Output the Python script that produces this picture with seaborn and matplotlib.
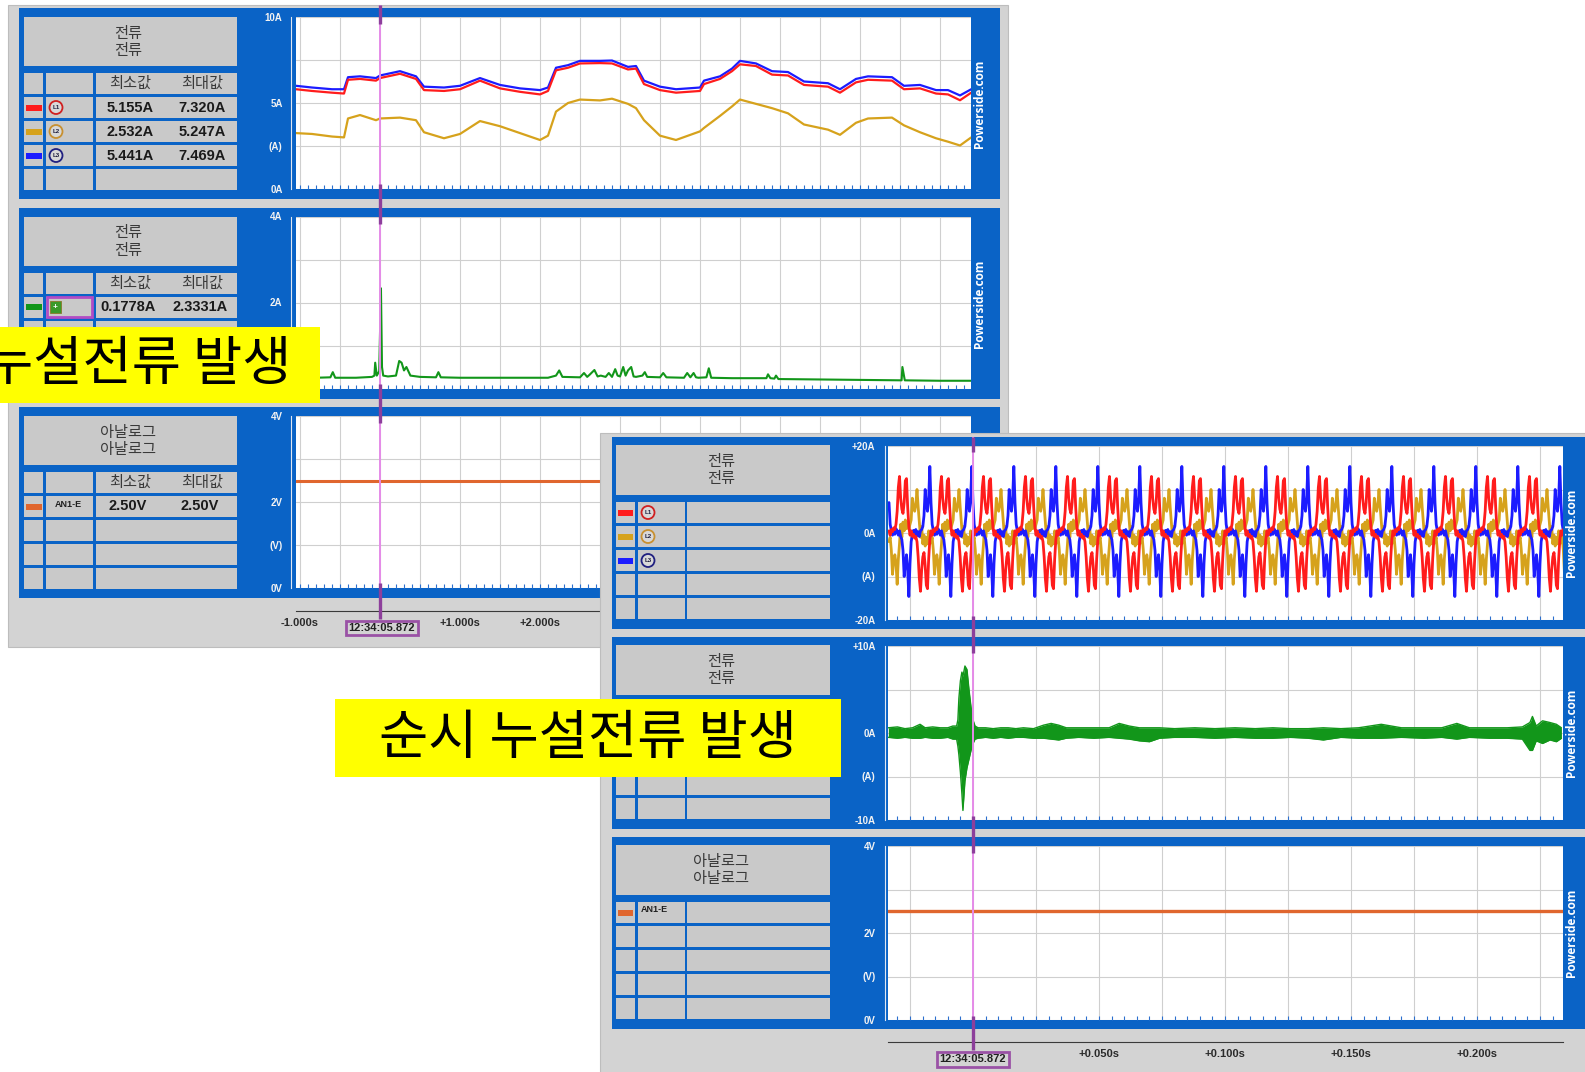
import numpy as np
import matplotlib
matplotlib.use("Agg")
import matplotlib.pyplot as plt
import seaborn as sns
from matplotlib.patches import Rectangle, Circle
from matplotlib.ticker import MultipleLocator, FixedLocator

sns.set_style("white")
plt.rcParams['font.family'] = ['Liberation Sans', 'Noto Sans CJK KR', 'DejaVu Sans']
KR = ['Noto Sans CJK KR', 'DejaVu Sans']

# ---------------- DATA ----------------
# Left recorder window: RMS trend, time in s relative to cursor 12:34:05.872
rms_time_s = [-1.05, -0.85, -0.6, -0.45, -0.4, -0.25, -0.05, 0.0, 0.25, 0.45,
              0.55, 0.8, 1.0, 1.25, 1.5, 1.75, 2.0, 2.1, 2.2, 2.35,
              2.5, 2.75, 2.9, 3.1, 3.2, 3.3, 3.5, 3.7, 4.0, 4.05,
              4.25, 4.4, 4.5, 4.7, 4.9, 5.1, 5.3, 5.6, 5.75, 5.95,
              6.1, 6.4, 6.55, 6.75, 6.95, 7.1, 7.25, 7.39]
rms_L1_A = [5.8, 5.7, 5.6, 5.55, 6.35, 6.4, 6.3, 6.45, 6.7, 6.4,
            5.75, 5.7, 5.8, 6.3, 5.85, 5.65, 5.5, 5.7, 6.9, 7.05,
            7.3, 7.32, 7.3, 6.95, 7.0, 6.1, 5.75, 5.6, 5.7, 6.1,
            6.4, 6.85, 7.25, 7.15, 6.65, 6.6, 6.05, 5.95, 5.6, 6.2,
            6.35, 6.3, 5.8, 5.85, 5.55, 5.5, 5.16, 5.6]
rms_L2_A = [3.25, 3.2, 3.05, 3.0, 4.1, 4.3, 4.0, 4.1, 4.15, 4.0,
            3.3, 2.95, 3.2, 3.95, 3.65, 3.25, 2.85, 3.1, 4.5, 5.0,
            5.2, 5.15, 5.25, 4.95, 4.7, 4.0, 3.1, 2.85, 3.35, 3.55,
            4.25, 4.8, 5.2, 4.95, 4.7, 4.4, 3.75, 3.45, 3.15, 3.85,
            4.1, 4.15, 3.7, 3.3, 2.95, 2.75, 2.53, 3.0]
rms_L3_A = [6.0, 5.9, 5.8, 5.8, 6.5, 6.55, 6.45, 6.6, 6.85, 6.55,
            5.95, 5.9, 6.0, 6.45, 6.05, 5.85, 5.75, 5.9, 7.05, 7.2,
            7.45, 7.45, 7.47, 7.1, 7.15, 6.3, 5.95, 5.8, 5.9, 6.3,
            6.55, 7.0, 7.45, 7.3, 6.85, 6.8, 6.25, 6.15, 5.8, 6.4,
            6.55, 6.5, 6.0, 6.05, 5.75, 5.75, 5.44, 5.8]

leak_time_s = [-1.05, -0.8, -0.62, -0.59, -0.56, -0.3, -0.1, -0.07, -0.06, -0.04,
               -0.01, 0.012, 0.025, 0.04, 0.1, 0.2, 0.24, 0.27, 0.3, 0.33,
               0.38, 0.5, 0.7, 0.73, 0.76, 1.0, 1.4, 1.8, 2.1, 2.2,
               2.24, 2.28, 2.5, 2.55, 2.59, 2.62, 2.68, 2.72, 2.76, 2.82,
               2.86, 2.9, 2.94, 2.97, 3.0, 3.04, 3.07, 3.1, 3.14, 3.17,
               3.2, 3.28, 3.31, 3.34, 3.5, 3.54, 3.58, 3.8, 3.84, 3.88,
               3.92, 3.95, 3.98, 4.08, 4.11, 4.14, 4.4, 4.83, 4.85, 4.88,
               4.93, 4.95, 4.98, 5.5, 6.0, 6.52, 6.53, 6.56, 7.0, 7.39]
leak_rms_A = [0.25, 0.25, 0.26, 0.38, 0.25, 0.25, 0.27, 0.3, 0.6, 0.3,
              0.4, 2.33, 0.5, 0.3, 0.28, 0.3, 0.64, 0.6, 0.42, 0.5,
              0.3, 0.27, 0.26, 0.38, 0.26, 0.25, 0.25, 0.25, 0.25, 0.3,
              0.42, 0.27, 0.26, 0.36, 0.27, 0.32, 0.43, 0.28, 0.3, 0.27,
              0.36, 0.27, 0.45, 0.3, 0.28, 0.5, 0.3, 0.42, 0.5, 0.28,
              0.27, 0.3, 0.38, 0.27, 0.26, 0.36, 0.26, 0.25, 0.36, 0.26,
              0.36, 0.26, 0.25, 0.26, 0.47, 0.25, 0.24, 0.24, 0.33, 0.24,
              0.23, 0.3, 0.22, 0.21, 0.2, 0.19, 0.5, 0.19, 0.18, 0.18]
analog_V = 2.50

phase_names = ['L1', 'L2', 'L3']
rms_min_txt = ['5.155A', '2.532A', '5.441A']
rms_max_txt = ['7.320A', '5.247A', '7.469A']
leak_min_txt, leak_max_txt = '0.1778A', '2.3331A'
an_min_txt, an_max_txt = '2.50V', '2.50V'
cursor_stamp = '12:34:05.872'

# Right recorder window: one observed 60 Hz cycle per phase (36 samples), repeated
line_freq_hz = 60.0
n_cycles = 17
wave_start_s = -2 / 60.0
cycle_L1_A = [0.5, -0.5, 0.8, 0.3, 1.2, 0.8, 2.0, 5.0, 10.5, 13.0, 8.0, 5.5,
              4.5, 7.0, 12.0, 12.5, 6.0, 1.5, -0.5, 0.5, -0.8, -0.3, -1.2, -0.8,
              -2.0, -5.5, -10.5, -13.4, -8.5, -5.5, -4.5, -7.5, -12.0, -12.8, -6.0, -1.5]
cycle_L2_A = [-2.0, -1.0, -4.0, -9.5, -6.5, -5.0, -7.0, -11.8, -6.0, -2.5, 2.0, -1.0,
              2.5, 0.5, 3.0, 1.0, 2.5, 1.0, 2.0, 3.0, 8.0, 6.0, 5.0, 6.5,
              10.0, 6.0, 2.5, -1.0, 1.5, -2.5, -0.5, -3.0, -1.0, -2.5, 0.5, -2.5]
cycle_L3_A = [7.0, 2.0, 0.5, -0.5, 0.8, -0.3, 1.0, 0.3, -0.5, 0.5, -0.8, -1.5,
              -4.0, -10.0, -7.0, -5.0, -8.5, -14.6, -7.0, -2.0, -0.5, 0.6, -0.4, 0.8,
              -0.6, 0.3, -0.8, 0.5, 0.8, 1.5, 4.0, 10.0, 6.5, 5.0, 8.0, 15.3]

leak_inst_ms = [-33.6, -30, -27, -24, -21, -19, -16, -13, -10, -8,
                -6.5, -6.0, -5.6, -5.0, -4.4, -4.0, -3.2, -2.4, -1.6, -0.8,
                0.0, 0.8, 2, 5, 8, 11, 14, 17, 20, 24,
                28, 31, 34, 37, 42, 48, 54, 58, 62, 66,
                70, 74, 80, 88, 96, 104, 112, 119, 126, 133,
                139, 146, 153, 162, 170, 179, 186, 192, 197, 205,
                212, 218, 221, 222, 223.5, 226, 229, 231.5, 233.5]
leak_inst_upper_A = [0.6, 0.7, 0.5, 0.6, 1.0, 0.6, 0.7, 0.6, 0.6, 0.8,
                     0.8, 1.5, 4.0, 6.0, 7.0, 6.5, 7.7, 7.3, 5.0, 3.0,
                     1.5, 0.8, 0.6, 0.6, 0.5, 0.6, 0.6, 0.5, 0.6, 0.5,
                     0.9, 1.1, 0.9, 0.6, 0.6, 0.6, 0.6, 1.1, 0.8, 0.6,
                     0.6, 0.6, 0.5, 0.6, 0.5, 0.6, 0.5, 0.6, 0.5, 0.5,
                     0.6, 0.5, 0.6, 1.0, 0.6, 0.6, 0.6, 1.1, 0.6, 0.6,
                     0.6, 0.7, 1.2, 1.9, 0.8, 1.4, 1.2, 1.0, 0.6]
leak_inst_lower_A = [-0.5, -0.6, -0.5, -0.6, -0.6, -0.5, -0.6, -0.6, -0.5, -0.7,
                     -0.7, -1.5, -2.5, -4.5, -7.0, -8.9, -5.5, -4.0, -3.0, -2.0,
                     -1.2, -0.7, -0.6, -0.5, -0.6, -0.5, -0.6, -0.5, -0.5, -0.6,
                     -0.6, -0.7, -0.8, -0.6, -0.5, -0.6, -0.5, -0.6, -0.7, -0.9,
                     -1.0, -0.6, -0.5, -0.5, -0.6, -0.5, -0.6, -0.6, -0.5, -0.6,
                     -0.8, -0.5, -0.6, -0.6, -0.5, -0.6, -0.5, -0.7, -0.5, -0.6,
                     -0.6, -0.7, -2.0, -2.0, -0.9, -1.2, -0.8, -1.0, -0.6]

# ---------------- STYLE ----------------
W, H = 1585, 1072
BLUE = '#0a63c6'
WIN = '#d3d3d3'
CELL = '#c9c9c9'
TXT = '#3a3a3a'
C_L1, C_L2, C_L3 = '#ff1c1c', '#d6a21c', '#1c1cff'
C_LEAK = '#12961a'
C_AN = '#e0662e'
CUR_LIGHT, CUR_DARK = '#e58be8', '#8d3f9b'

fig = plt.figure(figsize=(W / 100, H / 100), dpi=100, facecolor='white')


def canvas(z):
    ax = fig.add_axes([0, 0, 1, 1], zorder=z)
    ax.set_xlim(0, W)
    ax.set_ylim(H, 0)
    ax.axis('off')
    return ax


def px_axes(x0, y0, x1, y1, z):
    return fig.add_axes([x0 / W, 1 - y1 / H, (x1 - x0) / W, (y1 - y0) / H], zorder=z)


def rect(ax, x0, y0, x1, y1, **kw):
    ax.add_patch(Rectangle((x0, y0), x1 - x0, y1 - y0, **kw))


def style_plot(ax, xlim, ylim, yt, yl, yminor, xmajor, xminor, off_px, tlen_px):
    ax.set_facecolor('white')
    ax.set_xlim(*xlim)
    ax.set_ylim(*ylim)
    for s in ('top', 'right', 'bottom'):
        ax.spines[s].set_visible(False)
    ax.spines['left'].set_position(('outward', off_px * 0.72))
    ax.spines['left'].set_color('#dfe6f2')
    ax.spines['left'].set_linewidth(0.8)
    ax.yaxis.set_major_locator(FixedLocator(yt))
    ax.set_yticklabels(yl)
    ax.yaxis.set_minor_locator(MultipleLocator(yminor))
    ax.tick_params(axis='y', which='major', direction='out', length=tlen_px * 0.72,
                   width=0.8, color='#dfe6f2', labelcolor='#f2f2f2', labelsize=7, pad=1)
    ax.tick_params(axis='y', which='minor', direction='out', length=2, width=0.6,
                   color='#dfe6f2')
    ax.xaxis.set_major_locator(MultipleLocator(xmajor))
    ax.xaxis.set_minor_locator(MultipleLocator(xminor))
    ax.tick_params(axis='x', which='both', direction='in', length=3, width=0.8,
                   color='#2b6fcf', labelbottom=False, bottom=True)
    ax.grid(True, which='major', color='#cfcfcf', lw=0.8)
    ax.set_axisbelow(True)
    for lab in ax.get_yticklabels():
        lab.set_fontweight('bold')
    ax.set_xlabel('')
    ax.set_ylabel('')


def ruler(x0, x1, y, xlim, ticks, labels, minor, z):
    ax = px_axes(x0, y - 1, x1, y, z)
    ax.set_xlim(*xlim)
    ax.set_ylim(0, 1)
    ax.patch.set_alpha(0)
    for s in ('top', 'left', 'right'):
        ax.spines[s].set_visible(False)
    ax.spines['bottom'].set_color('#3a3a3a')
    ax.set_yticks([])
    ax.xaxis.set_major_locator(FixedLocator(ticks))
    ax.set_xticklabels(labels)
    ax.xaxis.set_minor_locator(MultipleLocator(minor))
    ax.tick_params(axis='x', which='major', direction='out', length=4.5, width=1,
                   color='#3a3a3a', labelsize=8, pad=0.5, labelcolor='#2a2a2a')
    ax.tick_params(axis='x', which='minor', direction='out', length=2.8, width=0.8,
                   color='#3a3a3a')
    for lab in ax.get_xticklabels():
        lab.set_fontweight('bold')
    return ax


def phase_icon(ax, x, y, name, color):
    ax.add_patch(Circle((x, y), 6.5, fc='#d8d8d8', ec=color, lw=1.3))
    ax.text(x, y, name, ha='center', va='center', fontsize=4.5, fontweight='bold',
            color='#202040')


def powerside(ax, x, y):
    ax.text(x, y, 'Powerside.com', rotation=90, ha='center', va='center',
            color='white', fontsize=8.5, fontweight='bold', family=['Open Sans', 'DejaVu Sans'])


# ================= LEFT WINDOW =================
cL = canvas(0)
rect(cL, 8, 5, 1008, 647, fc=WIN, ec='#bdbdbd', lw=0.8)
L_TOPS = [8, 207.5, 407]
L_TITLES = ['전류\n전류', '전류\n전류', '아날로그\n아날로그']
for top, title in zip(L_TOPS, L_TITLES):
    rect(cL, 19, top, 1000, top + 191, fc=BLUE, ec='none')
    rect(cL, 24, top + 9, 237, top + 58, fc=CELL, ec='none')
    cL.text(128, top + 34, title, ha='center', va='center', fontsize=11,
            family=KR, color=TXT, linespacing=1.0)
    for r in range(5):
        y0 = top + 65 + 24 * r
        for cx0, cx1 in ((24, 43), (46, 93), (96, 237)):
            rect(cL, cx0, y0, cx1, y0 + 21, fc=CELL, ec='none')
    cL.text(130, top + 75.5, '최소값', ha='center', va='center', fontsize=11, family=KR, color=TXT)
    cL.text(202, top + 75.5, '최대값', ha='center', va='center', fontsize=11, family=KR, color=TXT)
    powerside(cL, 979, top + 96)

# rows of panel 1
for i, (nm, col) in enumerate(zip(phase_names, [C_L1, C_L2, C_L3])):
    yc = L_TOPS[0] + 89 + 24 * i + 10.5
    rect(cL, 26, yc - 3, 42, yc + 3, fc=col, ec='none')
    phase_icon(cL, 56, yc, nm, {'L1': '#d02020', 'L2': '#c89030', 'L3': '#202080'}[nm])
    cL.text(130, yc, rms_min_txt[i], ha='center', va='center', fontsize=10.5, fontweight='bold', color='#1a1a1a')
    cL.text(202, yc, rms_max_txt[i], ha='center', va='center', fontsize=10.5, fontweight='bold', color='#1a1a1a')
# panel 2 row
yc = L_TOPS[1] + 89 + 10.5
rect(cL, 26, yc - 3, 42, yc + 3, fc=C_LEAK, ec='none')
rect(cL, 47, yc - 10, 92, yc + 10, fc=CELL, ec='#b24cc4', lw=2)
rect(cL, 50, yc - 6, 61, yc + 6, fc='#3a9a2a', ec='#8a7a2a', lw=0.6)
cL.text(55.5, yc, '+', ha='center', va='center', fontsize=6, fontweight='bold', color='white')
cL.text(128, yc, leak_min_txt, ha='center', va='center', fontsize=10.5, fontweight='bold', color='#1a1a1a')
cL.text(200, yc, leak_max_txt, ha='center', va='center', fontsize=10.5, fontweight='bold', color='#1a1a1a')
# panel 3 row
yc = L_TOPS[2] + 89 + 10.5
rect(cL, 26, yc - 3, 42, yc + 3, fc=C_AN, ec='none')
cL.text(68, yc - 2, 'AN1-E', ha='center', va='center', fontsize=6.5, fontweight='bold', color='#202020')
cL.text(128, yc, an_min_txt, ha='center', va='center', fontsize=10.5, fontweight='bold', color='#1a1a1a')
cL.text(200, yc, an_max_txt, ha='center', va='center', fontsize=10.5, fontweight='bold', color='#1a1a1a')

XL_LIM = ((296 - 380) / 80.0, (971 - 380) / 80.0)

a1 = px_axes(296, L_TOPS[0] + 9, 971, L_TOPS[0] + 181, 1)
sns.lineplot(x=rms_time_s, y=rms_L2_A, ax=a1, color=C_L2, lw=1.6, estimator=None, sort=False)
sns.lineplot(x=rms_time_s, y=rms_L3_A, ax=a1, color=C_L3, lw=1.6, estimator=None, sort=False)
sns.lineplot(x=rms_time_s, y=rms_L1_A, ax=a1, color=C_L1, lw=1.6, estimator=None, sort=False)
style_plot(a1, XL_LIM, (0, 10), [0, 2.5, 5, 7.5, 10], ['0A', '(A)', '5A', '', '10A'],
           0.5, 0.5, 0.1, 5, 7)

a2 = px_axes(296, L_TOPS[1] + 9, 971, L_TOPS[1] + 181, 1)
sns.lineplot(x=leak_time_s, y=leak_rms_A, ax=a2, color=C_LEAK, lw=1.5, estimator=None, sort=False)
# the lower two labels of this axis lie under the yellow callout
style_plot(a2, XL_LIM, (0, 4), [0, 1, 2, 3, 4], ['', '', '2A', '', '4A'],
           0.2, 0.5, 0.1, 5, 7)

a3 = px_axes(296, L_TOPS[2] + 9, 971, L_TOPS[2] + 181, 1)
sns.lineplot(x=[XL_LIM[0], XL_LIM[1]], y=[analog_V, analog_V], ax=a3, color=C_AN, lw=2.2)
style_plot(a3, XL_LIM, (0, 4), [0, 1, 2, 3, 4], ['0V', '(V)', '2V', '', '4V'],
           0.2, 0.5, 0.1, 5, 7)

ruler(296, 971, 611, XL_LIM, [-1, 0, 1, 2, 3, 4, 5, 6, 7],
      ['-1.000s', '', '+1.000s', '+2.000s', '', '', '', '', ''],
      0.1, 1)

oL = canvas(2)
oL.plot([380, 380], [5, 619], color=CUR_LIGHT, lw=1.4, solid_capstyle='butt')
for y0, y1 in ((5, 24), (184, 224), (384, 423), (583, 619)):
    oL.plot([380, 380], [y0, y1], color=CUR_DARK, lw=2.4, solid_capstyle='butt')
oL.text(382, 628, cursor_stamp, ha='center', va='center', fontsize=8, fontweight='bold',
        color='#202020', bbox=dict(boxstyle='square,pad=0.22', fc=WIN, ec='#9a52a6', lw=2))

# ================= RIGHT WINDOW =================
cR = canvas(3)
rect(cR, 600, 433, 1590, 1075, fc=WIN, ec='#bdbdbd', lw=0.8)
R_TOPS = [437, 637, 837]
R_TITLES = ['전류\n전류', '전류\n전류', '아날로그\n아날로그']
for top, title in zip(R_TOPS, R_TITLES):
    rect(cR, 612, top, 1590, top + 192, fc=BLUE, ec='none')
    rect(cR, 616, top + 8, 830, top + 58, fc=CELL, ec='none')
    cR.text(721, top + 33, title, ha='center', va='center', fontsize=11,
            family=KR, color=TXT, linespacing=1.0)
    for r in range(5):
        y0 = top + 65 + 24 * r
        for cx0, cx1 in ((616, 635), (638, 685), (687, 830)):
            rect(cR, cx0, y0, cx1, y0 + 21, fc=CELL, ec='none')
    powerside(cR, 1571, top + 96)

for i, (nm, col) in enumerate(zip(phase_names, [C_L1, C_L2, C_L3])):
    yc = R_TOPS[0] + 65 + 24 * i + 10.5
    rect(cR, 618, yc - 3, 633, yc + 3, fc=col, ec='none')
    phase_icon(cR, 648, yc, nm, {'L1': '#d02020', 'L2': '#c89030', 'L3': '#202080'}[nm])
yc = R_TOPS[2] + 65 + 10.5
rect(cR, 618, yc - 3, 633, yc + 3, fc=C_AN, ec='none')
cR.text(654, yc - 3, 'AN1-E', ha='center', va='center', fontsize=6.5, fontweight='bold', color='#202020')

XR_LIM = ((888 - 973) / 2520.0, (1563 - 973) / 2520.0)

n_per = len(cycle_L1_A)
wave_t = wave_start_s + np.arange(n_cycles * n_per) / (n_per * line_freq_hz)
wave_L1 = np.tile(cycle_L1_A, n_cycles)
wave_L2 = np.tile(cycle_L2_A, n_cycles)
wave_L3 = np.tile(cycle_L3_A, n_cycles)

b1 = px_axes(888, R_TOPS[0] + 9, 1563, R_TOPS[0] + 183, 4)
sns.lineplot(x=wave_t, y=wave_L2, ax=b1, color=C_L2, lw=2.0, estimator=None, sort=False)
sns.lineplot(x=wave_t, y=wave_L3, ax=b1, color=C_L3, lw=2.0, estimator=None, sort=False)
sns.lineplot(x=wave_t, y=wave_L1, ax=b1, color=C_L1, lw=2.0, estimator=None, sort=False)
style_plot(b1, XR_LIM, (-20, 20), [-20, -10, 0, 10, 20], ['-20A', '(A)', '0A', '', '+20A'],
           2, 0.025, 0.005, 3, 8)

b2 = px_axes(888, R_TOPS[1] + 9, 1563, R_TOPS[1] + 183, 4)
t_leak = np.array(leak_inst_ms) / 1000.0
up = np.array(leak_inst_upper_A)
lo = np.array(leak_inst_lower_A)
b2.fill_between(t_leak, lo, up, color=C_LEAK, lw=0)
sns.lineplot(x=t_leak, y=up, ax=b2, color=C_LEAK, lw=1.0, estimator=None, sort=False)
sns.lineplot(x=t_leak, y=lo, ax=b2, color=C_LEAK, lw=1.0, estimator=None, sort=False)
style_plot(b2, XR_LIM, (-10, 10), [-10, -5, 0, 5, 10], ['-10A', '(A)', '0A', '', '+10A'],
           1, 0.025, 0.005, 3, 8)

b3 = px_axes(888, R_TOPS[2] + 9, 1563, R_TOPS[2] + 183, 4)
sns.lineplot(x=[XR_LIM[0], XR_LIM[1]], y=[analog_V, analog_V], ax=b3, color=C_AN, lw=2.4)
style_plot(b3, XR_LIM, (0, 4), [0, 1, 2, 3, 4], ['0V', '(V)', '2V', '', '4V'],
           0.2, 0.025, 0.005, 3, 8)

ruler(888, 1563, 1042, XR_LIM, [0, 0.05, 0.1, 0.15, 0.2],
      ['', '+0.050s', '+0.100s', '+0.150s', '+0.200s'], 0.005, 4)

oR = canvas(5)
oR.plot([973, 973], [437, 1050], color=CUR_LIGHT, lw=1.4, solid_capstyle='butt')
for y0, y1 in ((437, 452), (616, 653), (816, 853), (1016, 1050)):
    oR.plot([973, 973], [y0, y1], color=CUR_DARK, lw=2.4, solid_capstyle='butt')
oR.text(973, 1059.5, cursor_stamp, ha='center', va='center', fontsize=8, fontweight='bold',
        color='#202020', bbox=dict(boxstyle='square,pad=0.22', fc=WIN, ec='#9a52a6', lw=2))

# ================= YELLOW CALLOUTS =================
rect(oR, 0, 327, 320, 403, fc='#ffff00', ec='none')
oR.text(291, 365, '누설전류 발생', ha='right', va='center', fontsize=38.5, family=KR, color='black')
rect(oR, 335, 699, 841, 777, fc='#ffff00', ec='none')
oR.text(588, 738, '순시 누설전류 발생', ha='center', va='center', fontsize=38.5, family=KR, color='black')

fig.savefig('out.png', dpi=100, facecolor='white')
